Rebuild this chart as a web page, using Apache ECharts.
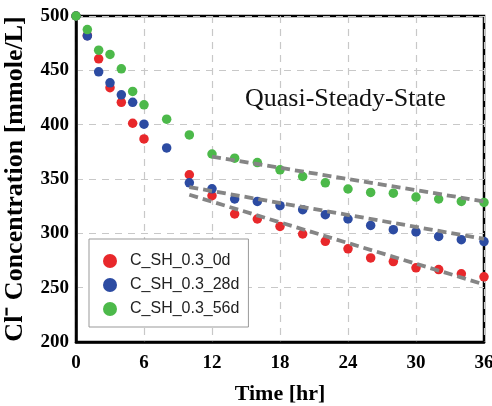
<!DOCTYPE html>
<html>
<head>
<meta charset="utf-8">
<script src="https://cdn.jsdelivr.net/npm/echarts@6/dist/echarts.min.js"></script>
<style>html,body{margin:0;padding:0;background:#fff}#c{width:492px;height:406px}</style>
</head>
<body>
<div id="c"></div>
<script>
var times = [0, 1, 2, 3, 4, 5, 6, 8, 10, 12, 14, 16, 18, 20, 22, 24, 26, 28, 30, 32, 34, 36];
var sh0d  = [500, 482, 460.6, 434, 420.6, 401.3, 386.9, null, 353.9, 334.6, 317.8, 313.2, 306.4, 299.4, 292.6, 285.7, 277.4, 274, 268.3, 266.7, 262.7, 260];
var sh28d = [500, 481.7, 448.6, 438.5, 427.5, 420.6, 400.4, 378.6, 346.5, 341, 331.6, 329.4, 325.4, 321.8, 317.2, 313.2, 307.3, 303.4, 301.3, 297.2, 294.2, 292.4];
var sh56d = [500, 487.5, 468.5, 464.6, 451.4, 430.6, 418.3, 405, 390.6, 373, 369.2, 365.1, 358.4, 352.3, 346.5, 340.8, 337.6, 337, 333.4, 331.6, 329.4, 328.4];
var seriesNames = ['C_SH_0.3_0d', 'C_SH_0.3_28d', 'C_SH_0.3_56d'];
var trend0d  = [[10, 335.5], [36, 253]];
var trend28d = [[10, 342.6], [36, 294.9]];
var trend56d = [[12, 370.6], [36, 329.4]];
var xTicks = [0, 6, 12, 18, 24, 30, 36];
var yTicks = [200, 250, 300, 350, 400, 450, 500];
var annotation = 'Quasi-Steady-State';

function pairs(vals) {
  var out = [];
  for (var i = 0; i < times.length; i++) if (vals[i] != null) out.push([times[i], vals[i]]);
  return out;
}
var colors = ['#e8282b', '#2c4ba2', '#4cb94a'];
var serif = '"Liberation Serif", "Times New Roman", serif';
var sans = '"Liberation Sans", Arial, sans-serif';

var chart = echarts.init(document.getElementById('c'), null, {renderer: 'canvas'});
var dotSeries = [sh0d, sh28d, sh56d].map(function (v, i) {
  return {
    name: seriesNames[i], type: 'scatter', data: pairs(v), symbol: 'circle', symbolSize: 9.5,
    itemStyle: {color: colors[i], opacity: 1}, clip: false, z: 3 + i
  };
});
var trendSeries = [trend0d, trend28d, trend56d].map(function (d) {
  return {
    type: 'line', data: d, symbol: 'none', silent: true, z: 10,
    lineStyle: {color: '#858585', width: 3.8, type: [9, 5]}
  };
});

chart.setOption({
  animation: false,
  backgroundColor: '#fff',
  title: {
    text: annotation, left: 245, top: 86, padding: 0,
    textStyle: {fontFamily: serif, fontWeight: 'normal', fontSize: 26, color: '#111'}
  },
  grid: {left: 76, right: 8, top: 16, bottom: 64, show: true, borderColor: '#000', borderWidth: 2.5,
    backgroundColor: 'transparent', outerBoundsMode: 'none', containLabel: false},
  legend: {
    data: seriesNames, orient: 'vertical', left: 89, top: 239,
    padding: [14, 9, 10, 14], itemGap: 8, itemWidth: 14, itemHeight: 14,
    icon: 'circle', backgroundColor: '#fff', borderColor: '#999', borderWidth: 1,
    itemStyle: {opacity: 1},
    textStyle: {fontFamily: sans, fontSize: 16, color: '#222', padding: [0, 0, 0, 8]}
  },
  xAxis: {
    type: 'value', min: 0, max: 36, interval: 6,
    name: 'Time [hr]', nameLocation: 'middle', nameGap: 41,
    nameTextStyle: {fontFamily: serif, fontWeight: 'bold', fontSize: 22, color: '#000'},
    axisLine: {show: true, lineStyle: {color: '#000', width: 2.5}},
    axisTick: {show: false},
    axisLabel: {margin: 12, fontFamily: serif, fontWeight: 'bold', fontSize: 19, color: '#000',
      formatter: function (v) { return xTicks.indexOf(v) >= 0 ? String(v) : ''; }},
    splitLine: {show: true, lineStyle: {color: '#c8c8c8', width: 1.2, type: [7, 6]}}
  },
  yAxis: {
    type: 'value', min: 200, max: 500, interval: 50,
    name: 'Cl\u207B Concentration [mmole/L]', nameLocation: 'middle', nameGap: 48, nameRotate: 90,
    nameTextStyle: {fontFamily: serif, fontWeight: 'bold', fontSize: 26, color: '#000'},
    axisLine: {show: true, lineStyle: {color: '#000', width: 2.5}},
    axisTick: {show: false},
    axisLabel: {margin: 7, fontFamily: serif, fontWeight: 'bold', fontSize: 19, color: '#000',
      formatter: function (v) { return yTicks.indexOf(v) >= 0 ? String(v) : ''; }},
    splitLine: {show: true, lineStyle: {color: '#c8c8c8', width: 1.2, type: [7, 6]}}
  },
  series: dotSeries.concat(trendSeries)
});
</script>
</body>
</html>
